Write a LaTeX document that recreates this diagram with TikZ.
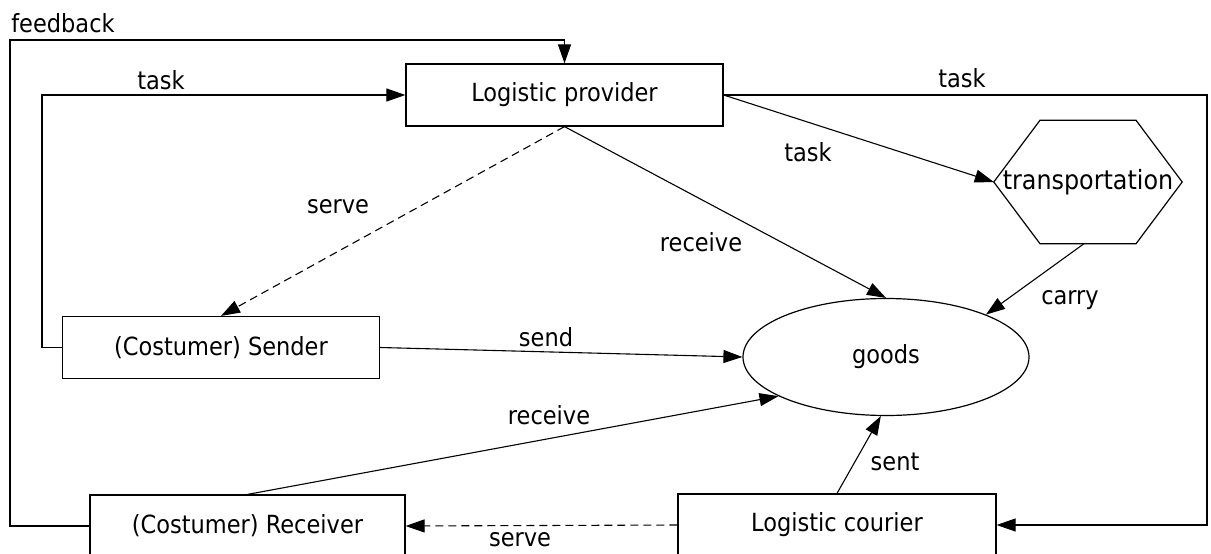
\documentclass[tikz,border=0pt]{standalone}
\usepackage{fontspec}
\setmainfont{DejaVu Sans Condensed}
\usetikzlibrary{arrows.meta,calc,shapes.geometric}
\begin{document}
\begin{tikzpicture}[x=1pt,y=-1pt,
  every node/.style={font=\fontsize{25}{30}\selectfont},
  box/.style={draw, line width=1.2pt, minimum width=317pt, minimum height=62pt, inner sep=0pt},
  lbl/.style={inner sep=0pt},
  conn/.style={line width=1.1pt, -{Triangle[length=19pt,width=13pt]}},
  dconn/.style={conn, dash pattern=on 8pt off 5pt},
  plain/.style={line width=1.2pt}]
\clip (0,0) rectangle (1211,554);
\fill[white] (0,0) rectangle (1211,554);

% nodes
\node[box] (P) at (564.5,95) {Logistic provider};
\node[box] (S) at (221,347.5) {(Costumer) Sender};
\node[box, minimum width=315pt] (R) at (247.5,526) {(Costumer) Receiver};
\node[box, minimum width=318pt] (C) at (837,525) {Logistic courier};
\node[draw, ellipse, line width=1.2pt, minimum width=286pt, minimum height=117pt, inner sep=0pt] (G) at (886,357) {goods};
\node[minimum width=188pt, minimum height=123pt, inner sep=0pt, font=\fontsize{26.5}{30}\selectfont] (T) at (1088,182) {transportation};
\draw[plain] (T.west) -- ($(T.north west)!0.245!(T.north east)$) -- ($(T.north west)!0.755!(T.north east)$) -- (T.east) -- ($(T.south west)!0.755!(T.south east)$) -- ($(T.south west)!0.245!(T.south east)$) -- cycle;

% helper corners
\coordinate (fb) at (10,40);
\coordinate (tl) at (42,95);
\coordinate (tr) at (1207,95);

% connectors
\draw[conn] (R.west) -| (fb) -- (fb -| P.north) -- (P.north);
\draw[conn] (S.west) -| (tl) -- (P.west);
\draw[conn] (P.east) -- (tr) |- (C.east);
\draw[conn] (P.east) -- (T.west);
\draw[dconn] (P.south) -- (S.north);
\draw[conn] (P.south) -- (G.north);
\draw[conn] ($(T.south)+(-4,0)$) -- (G.23);
\draw[conn] (S.east) -- (G.west);
\draw[conn] (R.north) -- (G.200);
\draw[conn] (C.north) -- (G.265);
\draw[dconn] (C.west) -- (R.east);

% labels
\node[lbl] (lfb) at (63,23) {feedback};
\node[lbl] (lt1) at (161,80) {task};
\node[lbl] (lt2) at (962,78) {task};
\node[lbl] (lt3) at (808,152) {task};
\node[lbl] (ls1) at (338,207) {serve};
\node[lbl] (lr1) at (701,242) {receive};
\node[lbl] (lca) at (1070,300) {carry};
\node[lbl] (lse) at (546,337) {send};
\node[lbl] (lr2) at (549,415) {receive};
\node[lbl] (lst) at (895,462) {sent};
\node[lbl] (ls2) at (520,540) {serve};
\end{tikzpicture}
\end{document}
